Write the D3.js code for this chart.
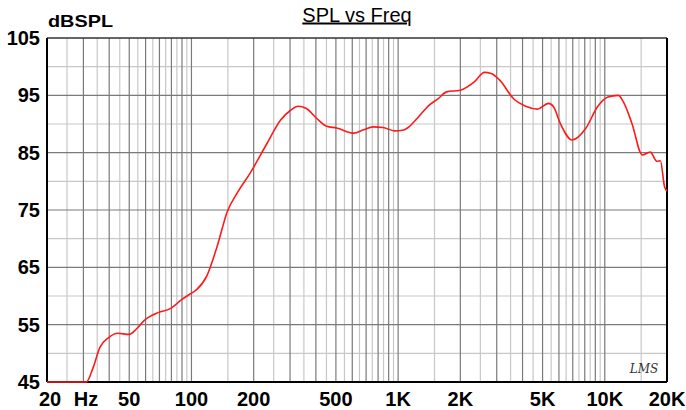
<!DOCTYPE html>
<meta charset="utf-8">
<body style="margin:0;background:#fff">
<div id="chart"></div>
</body>
<script src="https://cdn.jsdelivr.net/npm/d3@7"></script>
<script>
    var svg_width = 686,
        svg_height = 410;

    // curve (Hz, dB SPL)
    var freq = [20, 31, 33.5, 36, 39.6, 44, 50, 54, 59, 69, 79, 90, 98, 106, 119, 133, 149, 168, 192,
        232, 270, 302, 328, 360, 403, 451, 504, 610, 680, 757, 845, 961, 1050, 1136, 1238, 1415, 1560,
        1716, 2000, 2330, 2620, 2820, 3110, 3620, 4140, 4730, 5340, 5650, 6090, 6950, 8080, 9220,
        10360, 11630, 12320, 13530, 15190, 16600, 17850, 18580, 19480, 20000];
    var spl = [45, 45, 47.6, 51.0, 52.7, 53.5, 53.3, 54.2, 55.7, 57.1, 57.8, 59.4, 60.3, 61.1, 63.6, 68.6, 74.7, 78.2, 81.4,
        86.6, 90.7, 92.4, 93.1, 92.7, 91.0, 89.6, 89.3, 88.4, 89.0, 89.5, 89.4, 88.8, 88.9, 89.6, 91.0, 93.3, 94.4,
        95.6, 95.9, 97.3, 99.0, 98.8, 97.6, 94.4, 93.1, 92.6, 93.6, 93.0, 90.1, 87.2, 89.2, 93.0,
        94.7, 95.0, 93.8, 90.1, 84.6, 85.1, 83.5, 83.6, 79.0, 78.3];

    var y_ticks = [45, 55, 65, 75, 85, 95, 105];
    var x_ticks = [20, 50, 100, 200, 500, 1000, 2000, 5000, 10000, 20000];
    var x_tick_labels = ["20", "50", "100", "200", "500", "1K", "2K", "5K", "10K", "20K"];

    var margin = {left: 47, right: 19, top: 38, bottom: 28};

    var x = d3.scaleLog()
        .domain([20, 20000])
        .range([margin.left, svg_width - margin.right]);
    var y = d3.scaleLinear()
        .domain([45, 105])
        .range([svg_height - margin.bottom, margin.top]);

    // grid lines: every half step of each decade (1.5, 2, 2.5 ... 9.5)
    var grid_major = [], grid_minor = [];
    [10, 100, 1000, 10000].forEach(function(dec) {
        for (var m = 1.5; m < 10; m += 0.5) {
            var f = m * dec;
            if (f <= 20 || f >= 20000) continue;
            if (m % 1 == 0) grid_major.push(f); else grid_minor.push(f);
        }
    });
    grid_major.push(100, 1000, 10000);
    var hgrid_minor = d3.range(50, 105, 10);

    var svg = d3.select("#chart").append("svg")
        .attr("width", svg_width)
        .attr("height", svg_height)
        .style("font-family", "Arial, 'Liberation Sans', sans-serif");

    var g = svg.append("g");
    g.selectAll("line.vmin").data(grid_minor).enter().append("line")
        .attr("x1", x).attr("x2", x)
        .attr("y1", y(45)).attr("y2", y(105))
        .style("stroke", "#c8c8c8").style("stroke-width", 1.2);
    g.selectAll("line.hmin").data(hgrid_minor).enter().append("line")
        .attr("x1", x(20)).attr("x2", x(20000))
        .attr("y1", y).attr("y2", y)
        .style("stroke", "#c8c8c8").style("stroke-width", 1.2);
    g.selectAll("line.vmaj").data(grid_major).enter().append("line")
        .attr("x1", x).attr("x2", x)
        .attr("y1", y(45)).attr("y2", y(105))
        .style("stroke", "#7a7a7a").style("stroke-width", 1.2);
    g.selectAll("line.hmaj").data(y_ticks.slice(1, -1)).enter().append("line")
        .attr("x1", x(20)).attr("x2", x(20000))
        .attr("y1", y).attr("y2", y)
        .style("stroke", "#7a7a7a").style("stroke-width", 1.2);

    // frame
    svg.append("line").attr("x1", x(20)).attr("x2", x(20000)).attr("y1", y(105)).attr("y2", y(105))
        .style("stroke", "#333").style("stroke-width", 1.5);
    svg.append("line").attr("x1", x(20)).attr("x2", x(20000)).attr("y1", y(45)).attr("y2", y(45))
        .style("stroke", "#000").style("stroke-width", 2);
    svg.append("line").attr("x1", x(20)).attr("x2", x(20)).attr("y1", y(45)).attr("y2", y(105))
        .style("stroke", "#000").style("stroke-width", 2);
    svg.append("line").attr("x1", x(20000)).attr("x2", x(20000)).attr("y1", y(45)).attr("y2", y(105))
        .style("stroke", "#000").style("stroke-width", 2);

    var line = d3.line()
        .x(function(d, i) { return x(freq[i]); })
        .y(function(d) { return y(d); })
        .curve(d3.curveMonotoneX);

    svg.append("path")
        .datum(spl)
        .attr("d", line)
        .style("fill", "none")
        .style("stroke", "#ff1a1a")
        .style("stroke-width", 1.6);

    // y labels
    svg.selectAll("text.ylab").data(y_ticks).enter().append("text")
        .attr("x", 40).attr("y", function(d) { return y(d) + 7; })
        .attr("text-anchor", "end")
        .style("font-weight", "bold").style("font-size", "20px")
        .text(function(d) { return d; });

    // x labels
    svg.selectAll("text.xlab").data(x_ticks).enter().append("text")
        .attr("x", function(d) { return d == 20 ? x(d) + 3 : x(d); })
        .attr("y", 406)
        .attr("text-anchor", "middle")
        .style("font-weight", "bold").style("font-size", "20px")
        .text(function(d, i) { return x_tick_labels[i]; });
    svg.append("text").attr("x", 86).attr("y", 406)
        .attr("text-anchor", "middle")
        .style("font-weight", "bold").style("font-size", "20px")
        .text("Hz");

    svg.append("text").attr("x", 48).attr("y", 26.5)
        .attr("textLength", 65).attr("lengthAdjust", "spacingAndGlyphs")
        .style("font-weight", "bold").style("font-size", "17px")
        .text("dBSPL");

    svg.append("text").attr("x", 357).attr("y", 21.5)
        .attr("text-anchor", "middle")
        .style("font-size", "20px")
        .style("text-decoration", "underline")
        .text("SPL vs Freq");

    svg.append("text").attr("x", 644).attr("y", 373)
        .attr("text-anchor", "middle")
        .style("font-family", "'DejaVu Serif', serif")
        .style("font-style", "italic").style("font-size", "12px")
        .style("fill", "#333")
        .text("LMS");
</script>
